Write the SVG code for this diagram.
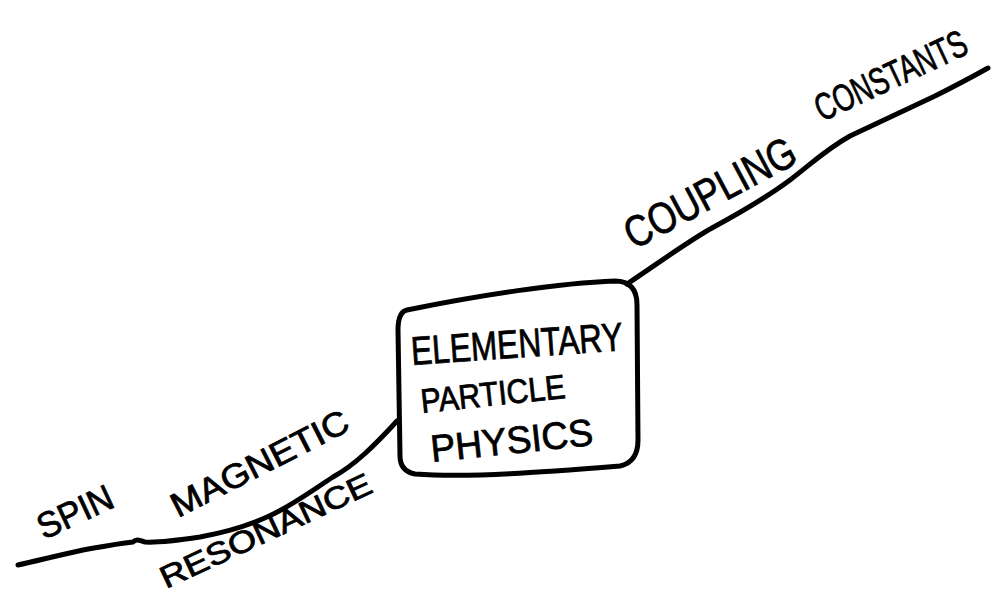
<svg xmlns="http://www.w3.org/2000/svg" width="1000" height="596" viewBox="0 0 1000 596">
  <style>
    .ink { fill: none; stroke: #000; stroke-width: 5; stroke-linecap: round; stroke-linejoin: round; }
    .hand { font-family: "Liberation Sans", "DejaVu Sans", sans-serif; fill: #000; stroke: #000; stroke-width: 0.8; }
  </style>
  <rect width="1000" height="596" fill="#fff"/>
  <g id="connectors">
    <path class="ink" d="M627,284 C660,262 690,240 712,228 C745,210 770,195 790,180 C810,165 825,150 850,136 C880,122 910,108 935,96 C955,86 972,77 988,68"/>
    <path class="ink" d="M397,421 C375,445 355,465 333,477 C310,492 290,507 267,517 C245,527 222,533 200,537 C180,540 160,543 145,542 C140,541 137,538 133,542 C115,544 100,547 83,550 C60,555 40,560 18,565"/>
  </g>
  <g id="node-center">
    <path class="ink" d="M407,310 C480,295 560,283 615,281 Q637,281 637,305 L638,440 Q638,462 620,466 C545,472 470,478 415,474 Q400,471 400,456 L398,330 Q398,312 407,310 Z"/>
    <text class="hand" font-size="40" transform="translate(412,365) rotate(-4)" textLength="212" lengthAdjust="spacingAndGlyphs">ELEMENTARY</text>
    <text class="hand" font-size="34" transform="translate(422,413) rotate(-6)" textLength="145" lengthAdjust="spacingAndGlyphs">PARTICLE</text>
    <text class="hand" font-size="38" transform="translate(432,462) rotate(-6)" textLength="163" lengthAdjust="spacingAndGlyphs">PHYSICS</text>
  </g>
  <g id="node-coupling">
    <text class="hand" font-size="44" transform="translate(634,250) rotate(-28)" textLength="188" lengthAdjust="spacingAndGlyphs">COUPLING</text>
    <text class="hand" font-size="38" transform="translate(822,122) rotate(-25)" textLength="164" lengthAdjust="spacingAndGlyphs">CONSTANTS</text>
  </g>
  <g id="node-spin">
    <text class="hand" font-size="36" transform="translate(44,540) rotate(-25)" textLength="80" lengthAdjust="spacingAndGlyphs">SPIN</text>
    <text class="hand" font-size="34" transform="translate(178,518) rotate(-27)" textLength="195" lengthAdjust="spacingAndGlyphs">MAGNETIC</text>
    <text class="hand" font-size="31" transform="translate(166,589) rotate(-25)" textLength="230" lengthAdjust="spacingAndGlyphs">RESONANCE</text>
  </g>
</svg>
